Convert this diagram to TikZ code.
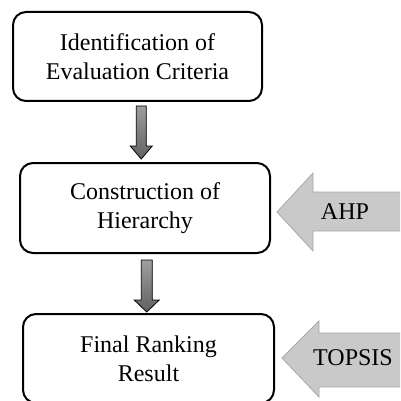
\documentclass[tikz,border=0pt]{standalone}
\usepackage{fontspec}
\setmainfont{Liberation Serif}
\usetikzlibrary{calc}

\begin{document}
\begin{tikzpicture}[x=1pt, y=-1pt]
    % --- GLOBAL DEFINITIONS ---
    \definecolor{sidefill}{RGB}{201, 201, 201}
    \definecolor{sideedge}{RGB}{168, 168, 168}

    % Boxes, flow arrows and method arrows
    \tikzset{
        stepbox/.style={draw=black, line width=2pt, rounded corners=13pt, minimum width=249pt, minimum height=89pt, align=center, inner sep=0pt},
        downarrow/.style={draw=black, line width=0.8pt, top color=black!38, bottom color=black!62},
        sidearrow/.style={fill=sidefill, draw=sideedge, line width=0.8pt},
        every node/.style={font=\fontsize{24}{29}\selectfont}
    }

    \useasboundingbox (0,0) rectangle (400,401);
    \clip (0,0) rectangle (400,401);

    % STEPS
    \node[stepbox] (ident) at (137.5,56.5) {Identification of\\Evaluation Criteria};
    \node[stepbox, minimum width=250pt, minimum height=90pt] (constr) at (145,208) {Construction of\\Hierarchy};
    \node[stepbox, minimum width=251pt] (rank) at (148.5,358.5) {Final Ranking\\Result};

    % FLOW ARROWS
    \draw[downarrow] let \p1=($(ident.south)!0.5!(constr.north)$), \p2=(ident.south), \p3=(constr.north) in
        (\x1-5pt,\y2-4pt) -- (\x1+5pt,\y2-4pt) -- (\x1+5pt,\y3+16pt) -- (\x1+11pt,\y3+16pt)
        -- (\x1,\y3+3pt) -- (\x1-11pt,\y3+16pt) -- (\x1-5pt,\y3+16pt) -- cycle;
    \draw[downarrow] let \p1=($(constr.south)!0.5!(rank.north)$), \p2=(constr.south), \p3=(rank.north) in
        (\x1-5.5pt,\y2-6pt) -- (\x1+5.5pt,\y2-6pt) -- (\x1+5.5pt,\y3+13pt) -- (\x1+12.5pt,\y3+13pt)
        -- (\x1,\y3+1pt) -- (\x1-12.5pt,\y3+13pt) -- (\x1-5.5pt,\y3+13pt) -- cycle;

    % METHOD ARROWS
    \draw[sidearrow] (277,212) -- (313,173) -- (313,192) -- (410,192) -- (410,231) -- (313,231) -- (313,251) -- cycle;
    \node[anchor=base] (ahp) at (345,219) {AHP};

    \draw[sidearrow] (282,358) -- (319,321) -- (319,333) -- (410,333) -- (410,387) -- (319,387) -- (319,397) -- cycle;
    \node[anchor=base] (topsis) at (353,365) {TOPSIS};
\end{tikzpicture}
\end{document}
